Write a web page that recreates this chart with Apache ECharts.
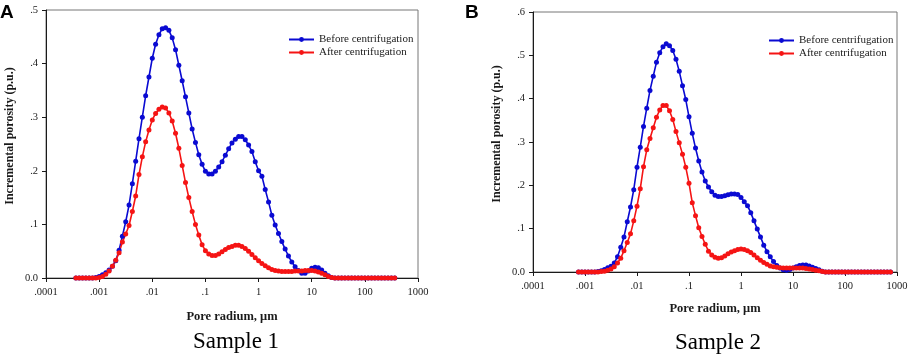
<!DOCTYPE html>
<html>
<head>
<meta charset="utf-8">
<script src="https://cdn.jsdelivr.net/npm/echarts@6/dist/echarts.min.js"></script>
<style>
  html, body { margin: 0; padding: 0; background: #fff; }
  #poreChart { width: 913px; height: 357px; }
</style>
</head>
<body>
<div id="poreChart"></div>
<script>
// pore radius (um) for each point, sample 1
var radiusA = [0.0003652, 0.0004217, 0.000487, 0.0005623, 0.0006494, 0.0007499, 0.000866,
  0.001, 0.001155, 0.001334, 0.00154, 0.001778, 0.002054, 0.002371, 0.002738, 0.003162, 0.003652, 0.004217, 0.00487, 0.005623, 0.006494, 0.007499, 0.00866,
  0.01, 0.01155, 0.01334, 0.0154, 0.01778, 0.02054, 0.02371, 0.02738, 0.03162, 0.03652, 0.04217, 0.0487, 0.05623, 0.06494, 0.07499, 0.0866,
  0.1, 0.1155, 0.1334, 0.154, 0.1778, 0.2054, 0.2371, 0.2738, 0.3162, 0.3652, 0.4217, 0.487, 0.5623, 0.6494, 0.7499, 0.866,
  1, 1.155, 1.334, 1.54, 1.778, 2.054, 2.371, 2.738, 3.162, 3.652, 4.217, 4.87, 5.623, 6.494, 7.499, 8.66,
  10, 11.55, 13.34, 15.4, 17.78, 20.54, 23.71, 27.38, 31.62, 36.52, 42.17, 48.7, 56.23, 64.94, 74.99, 86.6,
  100, 115.5, 133.4, 154, 177.8, 205.4, 237.1, 273.8, 316.2, 365.2];

// sample 1 incremental porosity (p.u.)
var beforeA = [0, 0, 0, 0, 0, 0,
  0.001, 0.003, 0.006, 0.010, 0.015, 0.022, 0.032, 0.052, 0.078, 0.105, 0.136, 0.176, 0.218, 0.26, 0.30, 0.34, 0.375, 0.41,
  0.436, 0.454, 0.465, 0.467, 0.462, 0.448, 0.426, 0.397, 0.368, 0.338, 0.308, 0.278, 0.253, 0.23, 0.212, 0.199,
  0.194, 0.194, 0.199, 0.207, 0.217, 0.229, 0.241, 0.252, 0.259, 0.264, 0.264, 0.258, 0.248, 0.236, 0.217, 0.2,
  0.19, 0.165, 0.142, 0.117, 0.099, 0.083, 0.068, 0.054, 0.041, 0.030, 0.021, 0.014, 0.009, 0.009, 0.013, 0.018,
  0.020, 0.019, 0.015, 0.009, 0.004, 0.001,
  0, 0, 0, 0, 0, 0, 0, 0, 0, 0, 0, 0, 0, 0, 0, 0, 0, 0, 0];
var afterA = [0, 0, 0, 0, 0, 0, 0,
  0.001, 0.003, 0.007, 0.013, 0.022, 0.033, 0.047, 0.067, 0.082, 0.098, 0.124, 0.153, 0.193, 0.226, 0.254, 0.276, 0.295,
  0.307, 0.315, 0.319, 0.317, 0.308, 0.293, 0.27, 0.242, 0.21, 0.178, 0.15, 0.124, 0.1, 0.08, 0.062, 0.051,
  0.045, 0.042, 0.042, 0.045, 0.049, 0.053, 0.057, 0.059, 0.061, 0.061, 0.059, 0.055, 0.05, 0.044, 0.038, 0.032,
  0.027, 0.023, 0.019, 0.016, 0.014, 0.013, 0.012, 0.012, 0.012, 0.012, 0.013, 0.013, 0.013, 0.014, 0.014, 0.014,
  0.013, 0.011, 0.009, 0.006, 0.003, 0.001,
  0, 0, 0, 0, 0, 0, 0, 0, 0, 0, 0, 0, 0, 0, 0, 0, 0, 0, 0];

// pore radius (um) for each point, sample 2
var radiusB = [0.0007499, 0.000866,
  0.001, 0.001155, 0.001334, 0.00154, 0.001778, 0.002054, 0.002371, 0.002738, 0.003162, 0.003652, 0.004217, 0.00487, 0.005623, 0.006494, 0.007499, 0.00866,
  0.01, 0.01155, 0.01334, 0.0154, 0.01778, 0.02054, 0.02371, 0.02738, 0.03162, 0.03652, 0.04217, 0.0487, 0.05623, 0.06494, 0.07499, 0.0866,
  0.1, 0.1155, 0.1334, 0.154, 0.1778, 0.2054, 0.2371, 0.2738, 0.3162, 0.3652, 0.4217, 0.487, 0.5623, 0.6494, 0.7499, 0.866,
  1, 1.155, 1.334, 1.54, 1.778, 2.054, 2.371, 2.738, 3.162, 3.652, 4.217, 4.87, 5.623, 6.494, 7.499, 8.66,
  10, 11.55, 13.34, 15.4, 17.78, 20.54, 23.71, 27.38, 31.62, 36.52, 42.17, 48.7, 56.23, 64.94, 74.99, 86.6,
  100, 115.5, 133.4, 154, 177.8, 205.4, 237.1, 273.8, 316.2, 365.2, 421.7, 487, 562.3, 649.4, 749.9];

// sample 2 incremental porosity (p.u.)
var beforeB = [0, 0, 0, 0, 0, 0,
  0.001, 0.003, 0.006, 0.010, 0.013, 0.021, 0.035, 0.057, 0.081, 0.116, 0.15, 0.19, 0.242, 0.288, 0.336, 0.378, 0.419, 0.452,
  0.484, 0.506, 0.520, 0.527, 0.522, 0.511, 0.491, 0.463, 0.43, 0.398, 0.358, 0.32, 0.286, 0.256, 0.231, 0.21,
  0.196, 0.185, 0.177, 0.174, 0.174, 0.176, 0.178, 0.18, 0.18, 0.179, 0.172, 0.162, 0.153, 0.137, 0.118, 0.099,
  0.081, 0.062, 0.047, 0.035, 0.024, 0.015, 0.009, 0.005, 0.004, 0.006, 0.009, 0.012, 0.015, 0.016, 0.016, 0.014,
  0.011, 0.008, 0.005, 0.002,
  0, 0, 0, 0, 0, 0, 0, 0, 0, 0, 0, 0, 0, 0, 0, 0, 0, 0, 0, 0, 0];
var afterB = [0, 0, 0, 0, 0, 0, 0,
  0.001, 0.002, 0.004, 0.007, 0.012, 0.021, 0.032, 0.049, 0.068, 0.088, 0.118, 0.152, 0.192, 0.243, 0.282, 0.308, 0.333,
  0.357, 0.374, 0.384, 0.384, 0.372, 0.352, 0.324, 0.298, 0.272, 0.242, 0.205, 0.16, 0.13, 0.102, 0.082, 0.064,
  0.048, 0.039, 0.034, 0.032, 0.033, 0.037, 0.042, 0.046, 0.049, 0.052, 0.053, 0.052, 0.049, 0.045, 0.039, 0.033,
  0.027, 0.022, 0.018, 0.014, 0.012, 0.011, 0.010, 0.009, 0.009, 0.009, 0.009, 0.009, 0.009, 0.009, 0.008, 0.007,
  0.006, 0.004, 0.003, 0.001,
  0, 0, 0, 0, 0, 0, 0, 0, 0, 0, 0, 0, 0, 0, 0, 0, 0, 0, 0, 0, 0];

var xTickLabels = ['.0001', '.001', '.01', '.1', '1', '10', '100', '1000'];
var seriesNames = ['Before centrifugation', 'After centrifugation'];
var sampleNames = ['Sample 1', 'Sample 2'];

var blue = '#0a0ad2';
var red = '#f51414';
var ink = '#1a1a1a';
var serif = '"Liberation Serif", "Times New Roman", serif';

function pairUp(xs, ys) {
    return xs.map(function (x, i) { return [x, ys[i]]; });
}

function makeX(idx, gap) {
    return {
        type: 'log', logBase: 10, gridIndex: idx,
        min: 0.0001, max: 1000,
        name: 'Pore radium, μm', nameLocation: 'middle', nameGap: gap,
        nameTextStyle: { fontFamily: serif, fontWeight: 'bold', fontSize: 12.5, color: ink },
        axisLine: { lineStyle: { color: ink, width: 1 } },
        axisTick: { show: true, length: 4, lineStyle: { color: ink } },
        minorTick: { show: false },
        splitLine: { show: false },
        axisLabel: {
            fontFamily: serif, fontSize: 10.5, color: ink, margin: 9,
            formatter: function (v) {
                return xTickLabels[Math.round(Math.log10(v)) + 4];
            }
        }
    };
}

function makeY(idx, max) {
    return {
        type: 'value', gridIndex: idx, min: 0, max: max, interval: 0.1,
        name: 'Incremental porosity (p.u.)', nameLocation: 'middle', nameGap: 30,
        nameTextStyle: { fontFamily: serif, fontWeight: 'bold', fontSize: 12, color: ink, padding: [0, 0, 0, 16] },
        axisLine: { show: true, lineStyle: { color: ink, width: 1 } },
        axisTick: { show: true, length: 4, lineStyle: { color: ink } },
        splitLine: { show: false },
        axisLabel: {
            fontFamily: serif, fontSize: 10.5, color: ink, margin: 8,
            formatter: function (v) {
                return v === 0 ? '0.0' : v.toFixed(1).replace(/^0\./, '.');
            }
        }
    };
}

function makeLine(name, color, idx, data) {
    return {
        name: name, type: 'line', xAxisIndex: idx, yAxisIndex: idx,
        data: data,
        symbol: 'circle', symbolSize: 5,
        lineStyle: { color: color, width: 1.6 },
        itemStyle: { color: color },
        emphasis: { disabled: true }
    };
}

function makeLegend(left, top) {
    return {
        data: seriesNames, orient: 'vertical', left: left, top: top,
        itemWidth: 25, itemHeight: 6, itemGap: 2,
        selectedMode: false,
        textStyle: { fontFamily: serif, fontSize: 11, color: ink }
    };
}

var dom = document.getElementById('poreChart');
var poreChart = echarts.init(dom);

var poreOption = {
    animation: false,
    backgroundColor: '#fff',
    grid: [
        { left: 46, top: 10, width: 372, height: 268, show: true, borderColor: '#777', borderWidth: 1 },
        { left: 533, top: 12, width: 364, height: 260, show: true, borderColor: '#777', borderWidth: 1 }
    ],
    legend: [makeLegend(283, 29), makeLegend(763, 30)],
    xAxis: [makeX(0, 32), makeX(1, 30)],
    yAxis: [makeY(0, 0.5), makeY(1, 0.6)],
    series: [
        makeLine(seriesNames[0], blue, 0, pairUp(radiusA, beforeA)),
        makeLine(seriesNames[1], red, 0, pairUp(radiusA, afterA)),
        makeLine(seriesNames[0], blue, 1, pairUp(radiusB, beforeB)),
        makeLine(seriesNames[1], red, 1, pairUp(radiusB, afterB))
    ],
    graphic: [
        { type: 'text', x: 0, y: 3, style: { text: 'A', fill: '#000', font: 'bold 19px "Liberation Sans", Arial, sans-serif' } },
        { type: 'text', x: 465, y: 3, style: { text: 'B', fill: '#000', font: 'bold 19px "Liberation Sans", Arial, sans-serif' } },
        { type: 'text', x: 236, y: 342, style: { text: sampleNames[0], fill: '#000', font: '23px "Liberation Serif", serif', align: 'center', verticalAlign: 'middle' } },
        { type: 'text', x: 718, y: 343, style: { text: sampleNames[1], fill: '#000', font: '23px "Liberation Serif", serif', align: 'center', verticalAlign: 'middle' } }
    ]
};

poreChart.setOption(poreOption);
</script>
</body>
</html>
